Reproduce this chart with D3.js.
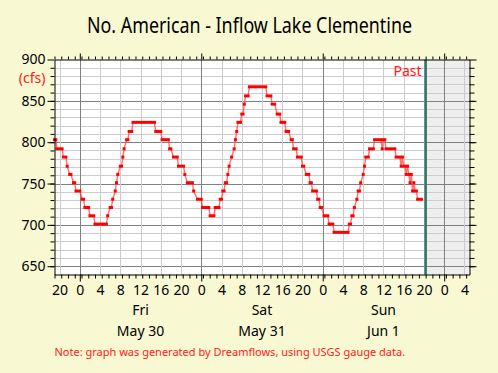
<!DOCTYPE html>
<html>
<head>
<meta charset="utf-8">
<script src="https://cdn.jsdelivr.net/npm/d3@7"></script>
<style>
  body { margin: 0; background: #f8f8d2; }
  svg { display: block; font-family: "Noto Sans", sans-serif; }
</style>
</head>
<body>
<svg id="chart"></svg>
<script>
// 15-minute gauge readings, as plateaus: start time, length in minutes, flow (cfs)
const flowStart = [
  "05/29 19:00", "05/29 19:30", "05/29 20:45", "05/29 21:30", "05/29 22:00", "05/29 22:45",
  "05/29 23:15", "05/30 00:30", "05/30 01:00", "05/30 02:00", "05/30 03:00", "05/30 05:30",
  "05/30 06:00", "05/30 06:30", "05/30 07:00", "05/30 07:15", "05/30 07:30", "05/30 08:00",
  "05/30 08:30", "05/30 08:45", "05/30 09:15", "05/30 09:45", "05/30 10:30", "05/30 15:00",
  "05/30 16:15", "05/30 17:45", "05/30 18:30", "05/30 19:30", "05/30 20:45", "05/30 21:15",
  "05/30 22:30", "05/30 23:15", "05/31 00:15", "05/31 01:45", "05/31 02:45", "05/31 03:45",
  "05/31 04:15", "05/31 04:45", "05/31 05:15", "05/31 05:30", "05/31 06:00", "05/31 06:30",
  "05/31 06:45", "05/31 07:00", "05/31 07:15", "05/31 08:00", "05/31 08:30", "05/31 08:45",
  "05/31 09:30", "05/31 13:00", "05/31 14:00", "05/31 15:00", "05/31 15:45", "05/31 16:45",
  "05/31 17:45", "05/31 18:15", "05/31 19:00", "05/31 20:00", "05/31 20:45", "05/31 21:30",
  "05/31 22:00", "05/31 23:00", "05/31 23:30", "06/01 00:15", "06/01 01:15", "06/01 02:15",
  "06/01 05:15", "06/01 05:45", "06/01 06:15", "06/01 06:45", "06/01 07:00", "06/01 07:30",
  "06/01 08:00", "06/01 08:15", "06/01 08:30", "06/01 09:15", "06/01 10:15", "06/01 11:45",
  "06/01 12:00", "06/01 12:30", "06/01 14:30", "06/01 15:30", "06/01 15:45", "06/01 16:00",
  "06/01 16:30", "06/01 16:45", "06/01 17:00", "06/01 17:15", "06/01 17:30", "06/01 17:45",
  "06/01 18:00", "06/01 18:15", "06/01 18:45"
];
const flowMinutes = [
  15, 60, 30, 0, 15, 15,
  45, 15, 45, 45, 135, 0,
  15, 0, 0, 0, 0, 15,
  0, 0, 15, 30, 255, 60,
  75, 15, 45, 60, 0, 60,
  0, 45, 75, 45, 45, 15,
  15, 15, 0, 0, 0, 0,
  0, 0, 30, 15, 0, 30,
  195, 45, 30, 30, 45, 30,
  15, 30, 45, 15, 30, 15,
  45, 15, 15, 45, 45, 165,
  15, 15, 0, 0, 15, 0,
  0, 0, 30, 45, 75, 0,
  15, 105, 45, 0, 0, 15,
  0, 0, 0, 0, 0, 0,
  0, 15, 45
];
const flowCfs = [
  803, 792, 782, 771, 761, 751,
  741, 731, 721, 711, 701, 711,
  721, 731, 741, 751, 761, 771,
  782, 792, 803, 813, 824, 813,
  803, 792, 782, 771, 761, 751,
  741, 731, 721, 711, 721, 731,
  741, 751, 761, 771, 782, 792,
  803, 813, 824, 834, 846, 856,
  867, 856, 846, 834, 824, 813,
  803, 792, 782, 771, 761, 751,
  741, 731, 721, 711, 701, 691,
  701, 711, 721, 731, 741, 751,
  761, 771, 782, 792, 803, 792,
  803, 792, 782, 771, 782, 771,
  761, 771, 761, 751, 761, 741,
  751, 741, 731
];

const timeRange = ["05/29 19:00", "06/02 05:00"];
const nowTime = "06/01 20:20";
const flowRange = [640, 900];
const flowLabels = [650, 700, 750, 800, 850, 900];
const dayNoons = ["05/30 12:00", "05/31 12:00", "06/01 12:00"];
const dayNames = ["Fri", "Sat", "Sun"];
const dayDates = ["May 30", "May 31", "Jun 1"];

const width = 498;
const height = 373;
const plot = { left: 54.5, right: 469.5, top: 59.5, bottom: 274.5 };
const red = "#ff1a1a";

const parse = (s) => d3.timeParse("%Y/%m/%d %H:%M")("2025/" + s);

const x = d3.scaleTime(timeRange.map(parse), [plot.left, plot.right]);
const y = d3.scaleLinear(flowRange, [plot.bottom, plot.top]);

const steps = flowStart.map((s, i) => {
  const t0 = parse(s);
  return { t0, t1: d3.timeMinute.offset(t0, flowMinutes[i]), v: flowCfs[i] };
});
const points = steps.flatMap((d) => [[d.t0, d.v], [d.t1, d.v]]);

const svg = d3.select("#chart").attr("width", width).attr("height", height);

// title (narrow face, squeezed to the original width)
svg.append("text")
  .attr("x", 87)
  .attr("y", 33)
  .attr("textLength", 325)
  .attr("lengthAdjust", "spacingAndGlyphs")
  .style("font-size", "22px")
  .text("No. American - Inflow Lake Clementine");

// plot background, future shading
svg.append("rect")
  .attr("x", plot.left).attr("y", plot.top)
  .attr("width", plot.right - plot.left).attr("height", plot.bottom - plot.top)
  .attr("fill", "#fff");
svg.append("rect")
  .attr("x", x(parse(nowTime))).attr("y", plot.top)
  .attr("width", plot.right - x(parse(nowTime))).attr("height", plot.bottom - plot.top)
  .attr("fill", "#eeeeee");

// grid
const grid = svg.append("g").attr("shape-rendering", "crispEdges");
const flowGrid = d3.range(650, 900, 10);
grid.selectAll(".gy")
  .data(flowGrid)
  .join("line")
  .attr("x1", plot.left).attr("x2", plot.right)
  .attr("y1", (d) => Math.round(y(d)) + 0.5).attr("y2", (d) => Math.round(y(d)) + 0.5)
  .attr("stroke", (d) => (d % 50 === 0 ? "#808080" : "#cccccc"));
const hourGrid = d3.timeHour.every(4).range(...x.domain()).filter((d) => +d > +x.domain()[0]);
grid.selectAll(".gx")
  .data(hourGrid)
  .join("line")
  .attr("x1", (d) => Math.round(x(d)) + 0.5).attr("x2", (d) => Math.round(x(d)) + 0.5)
  .attr("y1", plot.top).attr("y2", plot.bottom)
  .attr("stroke", (d) => (d.getHours() === 0 ? "#808080" : "#cccccc"));

// now line
svg.append("line")
  .attr("x1", x(parse(nowTime))).attr("x2", x(parse(nowTime)))
  .attr("y1", plot.top).attr("y2", plot.bottom)
  .attr("stroke", "#2e7565")
  .attr("stroke-width", 2.5);

svg.append("text")
  .attr("x", x(parse(nowTime)) - 4)
  .attr("y", 76)
  .attr("text-anchor", "end")
  .attr("fill", red)
  .style("font-size", "14px")
  .text("Past");

// flow line
svg.append("path")
  .datum(points)
  .attr("fill", "none")
  .attr("stroke", "#ff4040")
  .attr("stroke-opacity", 0.75)
  .attr("stroke-width", 1.4)
  .attr("d", d3.line().x((d) => x(d[0])).y((d) => y(d[1])));

svg.append("g")
  .selectAll("rect")
  .data(steps)
  .join("rect")
  .attr("x", (d) => x(d.t0) - 1.5)
  .attr("y", (d) => y(d.v) - 1.5)
  .attr("width", (d) => x(d.t1) - x(d.t0) + 3)
  .attr("height", 3)
  .attr("fill", "#ff0000");

// axes
const minorTimes = d3.timeMinute.range(...x.domain(), 80);
const midnights = d3.timeDay.range(...x.domain());
const labelTimes = hourGrid;
const flowTicks = d3.range(650, 900, 10);

const axisStyle = (g) => {
  g.selectAll("line").attr("stroke", "#000");
  g.selectAll("path").attr("stroke", "#000");
  g.selectAll("text").attr("fill", "#000").style("font-size", "14px").style("font-family", "Noto Sans");
};

svg.append("g")
  .attr("transform", `translate(0,${plot.bottom})`)
  .call(d3.axisBottom(x).tickValues(minorTimes).tickSize(4).tickSizeOuter(0).tickFormat(""))
  .call(axisStyle);
svg.append("g")
  .attr("transform", `translate(0,${plot.bottom})`)
  .call(d3.axisBottom(x).tickValues(midnights).tickSize(7).tickSizeOuter(0).tickFormat(""))
  .call((g) => g.select(".domain").remove())
  .call(axisStyle);
svg.append("g")
  .attr("transform", `translate(0,${plot.bottom})`)
  .call(d3.axisBottom(x).tickValues(labelTimes).tickSize(0).tickPadding(11).tickFormat(d3.timeFormat("%-H")))
  .call((g) => g.select(".domain").remove())
  .call(axisStyle);

svg.append("g")
  .attr("transform", `translate(0,${plot.top})`)
  .call(d3.axisTop(x).tickValues(minorTimes).tickSize(3).tickSizeOuter(0).tickFormat(""))
  .call(axisStyle);
svg.append("g")
  .attr("transform", `translate(0,${plot.top})`)
  .call(d3.axisTop(x).tickValues(midnights).tickSize(6).tickSizeOuter(0).tickFormat(""))
  .call((g) => g.select(".domain").remove())
  .call(axisStyle);

svg.append("g")
  .attr("transform", `translate(${plot.left},0)`)
  .call(d3.axisLeft(y).tickValues(flowTicks).tickSize(4).tickSizeOuter(0).tickFormat(""))
  .call(axisStyle);
svg.append("g")
  .attr("transform", `translate(${plot.left},0)`)
  .call(d3.axisLeft(y).tickValues(flowLabels).tickSize(7).tickPadding(2).tickSizeOuter(0))
  .call((g) => g.select(".domain").remove())
  .call(axisStyle);

svg.append("g")
  .attr("transform", `translate(${plot.right},0)`)
  .call(d3.axisRight(y).tickValues(flowTicks).tickSize(5).tickSizeOuter(0).tickFormat(""))
  .call(axisStyle);
svg.append("g")
  .attr("transform", `translate(${plot.right},0)`)
  .call(d3.axisRight(y).tickValues(flowLabels).tickSize(7).tickSizeOuter(0).tickFormat(""))
  .call((g) => g.select(".domain").remove())
  .call(axisStyle);

// unit label
svg.append("text")
  .attr("x", plot.left - 9)
  .attr("y", 83)
  .attr("text-anchor", "end")
  .attr("fill", red)
  .style("font-size", "14px")
  .text("(cfs)");

// day labels
const days = svg.append("g").attr("text-anchor", "middle").style("font-size", "14px");
days.selectAll(".dn")
  .data(dayNoons)
  .join("text")
  .attr("x", (d) => x(parse(d)))
  .attr("y", 315)
  .text((d, i) => dayNames[i]);
days.selectAll(".dd")
  .data(dayNoons)
  .join("text")
  .attr("x", (d) => x(parse(d)))
  .attr("y", 336)
  .text((d, i) => dayDates[i]);

// note
svg.append("text")
  .attr("x", plot.left)
  .attr("y", 356)
  .attr("fill", red)
  .style("font-size", "11px")
  .text("Note: graph was generated by Dreamflows, using USGS gauge data.");
</script>
</body>
</html>
